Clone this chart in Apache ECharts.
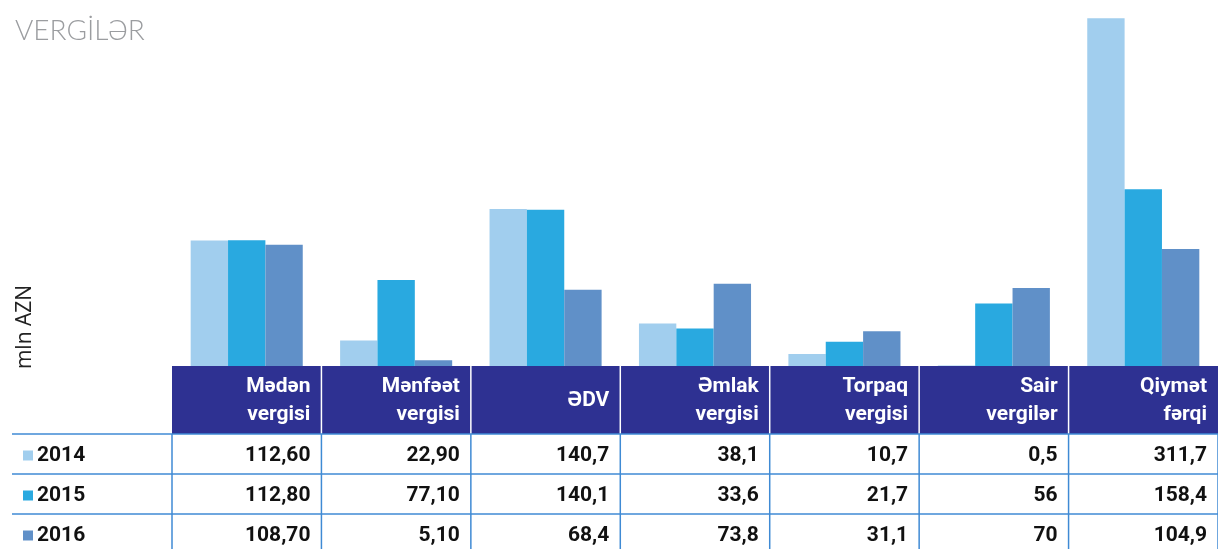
<!DOCTYPE html>
<html>
<head>
<meta charset="utf-8">
<script src="https://cdn.jsdelivr.net/npm/echarts@6/dist/echarts.min.js"></script>
<style>
  html, body { margin: 0; padding: 0; background: #ffffff; }
  #chart { width: 1218px; height: 549px; }
</style>
</head>
<body>
<div id="chart"></div>
<script>
// Tax categories (table header) and yearly values as printed in the table
const categories = ['Mədən\nvergisi', 'Mənfəət\nvergisi', 'ƏDV', 'Əmlak\nvergisi', 'Torpaq\nvergisi', 'Sair\nvergilər', 'Qiymət\nfərqi'];
const years = ['2014', '2015', '2016'];
const labels2014 = ['112,60', '22,90', '140,7', '38,1', '10,7', '0,5', '311,7'];
const labels2015 = ['112,80', '77,10', '140,1', '33,6', '21,7', '56', '158,4'];
const labels2016 = ['108,70', '5,10', '68,4', '73,8', '31,1', '70', '104,9'];
const yearColors = ['#A1CEEE', '#29A9E0', '#6090C8'];

// numbers written with a decimal comma -> numeric bar values
const toNum = s => parseFloat(s.replace(',', '.'));
const rows = [labels2014, labels2015, labels2016];

// layout
const GRID_LEFT = 172, GRID_TOP = 9, BASE_Y = 366, COL_W = 150;
const HEADER_H = 68, ROW_H = 40, TABLE_LEFT = 12, CHART_W = 1218, CHART_H = 549;
const HEADER_BG = '#2E3192', RULE = '#3F8AD4';

const chart = echarts.init(document.getElementById('chart'), null, { renderer: 'canvas' });

chart.setOption({
  animation: false,
  title: {
    text: 'VERGİLƏR',
    left: 10, top: 12,
    textStyle: { fontFamily: 'Lato', fontWeight: 300, fontSize: 28, color: '#9B9DA0' }
  },
  grid: { left: GRID_LEFT, top: GRID_TOP, width: COL_W * categories.length, height: BASE_Y - GRID_TOP },
  xAxis: {
    type: 'category', data: categories, show: false
  },
  yAxis: { type: 'value', min: 0, max: 320, show: false },
  series: rows.map((r, i) => ({
    name: years[i],
    type: 'bar',
    data: r.map(toNum),
    barGap: '0%',
    barCategoryGap: '25%',
    itemStyle: { color: yearColors[i] }
  }))
});

// table under the bars, aligned to the category bands of the x axis
const c0 = chart.convertToPixel({ xAxisIndex: 0 }, 0);
const c1 = chart.convertToPixel({ xAxisIndex: 0 }, 1);
const band = c1 - c0;
const colLeft = i => chart.convertToPixel({ xAxisIndex: 0 }, i) - band / 2;
const n = categories.length;
const headBottom = BASE_Y + HEADER_H;

const g = [];
// header background
g.push({ type: 'rect', shape: { x: colLeft(0), y: BASE_Y, width: band * n, height: HEADER_H }, style: { fill: HEADER_BG }, z: 1 });
for (let k = 1; k < n; k++) {
  g.push({ type: 'line', shape: { x1: colLeft(k), y1: BASE_Y, x2: colLeft(k), y2: headBottom }, style: { stroke: '#ffffff', lineWidth: 1.5 }, z: 2 });
}
categories.forEach((c, i) => {
  g.push({
    type: 'text', x: colLeft(i) + band - 11, y: BASE_Y + HEADER_H / 2 + 1, z: 3,
    style: { text: c, fill: '#ffffff', font: 'bold 21px Roboto', lineHeight: 28,
             align: 'right', textAlign: 'right', verticalAlign: 'middle', textVerticalAlign: 'middle' }
  });
});
// horizontal rules
for (let r = 0; r < 3; r++) {
  const y = headBottom + r * ROW_H;
  g.push({ type: 'line', shape: { x1: TABLE_LEFT, y1: y, x2: CHART_W, y2: y }, style: { stroke: RULE, lineWidth: 1.5 }, z: 2 });
}
// vertical rules in the body
for (let k = 0; k <= n; k++) {
  g.push({ type: 'line', shape: { x1: colLeft(k), y1: headBottom, x2: colLeft(k), y2: CHART_H }, style: { stroke: RULE, lineWidth: 1.5 }, z: 2 });
}
// rows: legend swatch, year, values
rows.forEach((r, ri) => {
  const cy = headBottom + ri * ROW_H + ROW_H / 2 + 1.5;
  g.push({ type: 'rect', shape: { x: 23, y: cy - 5, width: 10, height: 10 }, style: { fill: yearColors[ri] }, z: 3 });
  g.push({
    type: 'text', x: 37, y: cy, z: 3,
    style: { text: years[ri], fill: '#111111', font: 'bold 21px Roboto',
             align: 'left', textAlign: 'left', verticalAlign: 'middle', textVerticalAlign: 'middle' }
  });
  r.forEach((v, i) => {
    g.push({
      type: 'text', x: colLeft(i) + band - 11, y: cy, z: 3,
      style: { text: v, fill: '#111111', font: 'bold 21px Roboto',
               align: 'right', textAlign: 'right', verticalAlign: 'middle', textVerticalAlign: 'middle' }
    });
  });
});
// unit label
g.push({
  type: 'text', x: 25, y: 327, rotation: Math.PI / 2, z: 3,
  style: { text: 'mln AZN', fill: '#222222', font: '21px "Open Sans"',
           align: 'center', textAlign: 'center', verticalAlign: 'middle', textVerticalAlign: 'middle' }
});

chart.setOption({ graphic: g });
</script>
</body>
</html>
